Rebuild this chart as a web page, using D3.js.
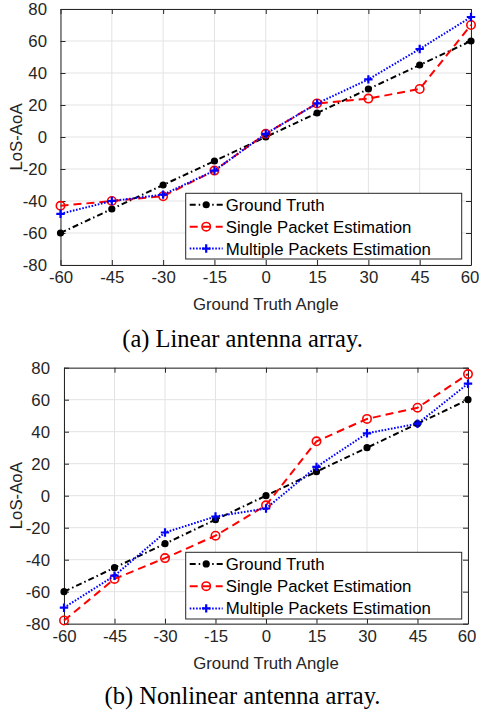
<!DOCTYPE html>
<html>
<head>
<meta charset="utf-8">
<script src="https://cdn.jsdelivr.net/npm/d3@7"></script>
<style>
  html, body { margin: 0; padding: 0; background: #ffffff; }
  svg { display: block; }
</style>
</head>
<body>
<svg id="fig" width="479" height="713"></svg>
<script>
// Ground-truth angles (x axis) and tick labels
const angles = [-60, -45, -30, -15, 0, 15, 30, 45, 60];
const xTicks = [-60, -45, -30, -15, 0, 15, 30, 45, 60];
const yTicks = [-80, -60, -40, -20, 0, 20, 40, 60, 80];

// (a) Linear antenna array
const linearTruth    = [-60, -45, -30, -15, 0, 15, 30, 45, 60];
const linearSingle   = [-43, -40, -37, -21, 2, 21, 24, 30, 70];
const linearMultiple = [-48, -40, -36, -21, 2, 21, 36, 55, 75];

// (b) Nonlinear antenna array
const nonlinTruth    = [-60, -45, -30, -15, 0, 15, 30, 45, 60];
const nonlinSingle   = [-78, -52, -39, -25, -6, 34, 48, 55, 76];
const nonlinMultiple = [-70, -50, -23, -13, -8, 18, 39, 45, 70];

const seriesNames = ["Ground Truth", "Single Packet Estimation", "Multiple Packets Estimation"];
const captions = ["(a) Linear antenna array.", "(b) Nonlinear antenna array."];

const svg = d3.select("#fig");
const axisColor = "#262626";
const gridColor = "#e3e3e3";
const sans = "'Liberation Sans', Arial, sans-serif";
const serif = "'Liberation Serif', 'Times New Roman', serif";
const fontSize = "16.8px";

const styles = [
  { color: "#000000", dash: "6,3,1.5,3", marker: "dot" },
  { color: "#ff0000", dash: "8,5", marker: "circle" },
  { color: "#0000ff", dash: "1.6,1.6", marker: "plus" }
];

const panels = [
  { left: 60.5, right: 471, top: 9, bottom: 265,
    series: [linearTruth, linearSingle, linearMultiple],
    legend: { x: 185.7, y: 193.3, w: 276, h: 65.7 },
    tickGap: 8.5, captionY: 346.5, caption: captions[0] },
  { left: 64, right: 468, top: 367.7, bottom: 623.7,
    series: [nonlinTruth, nonlinSingle, nonlinMultiple],
    legend: { x: 185.7, y: 552.3, w: 276, h: 66.7 },
    tickGap: 9, captionY: 704.3, caption: captions[1] }
];

function drawMarker(g, kind, cx, cy, color) {
  if (kind === "dot") {
    g.append("circle").attr("cx", cx).attr("cy", cy).attr("r", 3.6).attr("fill", color);
  } else if (kind === "circle") {
    g.append("circle").attr("cx", cx).attr("cy", cy).attr("r", 4.2)
      .attr("fill", "none").attr("stroke", color).attr("stroke-width", 1.6);
  } else {
    const s = 4.2;
    g.append("path").attr("d", `M${cx - s},${cy}H${cx + s}M${cx},${cy - s}V${cy + s}`)
      .attr("stroke", color).attr("stroke-width", 2.2).attr("fill", "none");
  }
}

// plain hyphen-minus labels
const fmt = d => String(d);

panels.forEach(p => {
  const x = d3.scaleLinear().domain([-60, 60]).range([p.left, p.right]);
  const y = d3.scaleLinear().domain([-80, 80]).range([p.bottom, p.top]);
  const g = svg.append("g");

  // grid
  g.append("g").selectAll("line").data(xTicks).join("line")
    .attr("x1", d => x(d)).attr("x2", d => x(d))
    .attr("y1", p.top).attr("y2", p.bottom)
    .attr("stroke", gridColor).attr("stroke-width", 1);
  g.append("g").selectAll("line").data(yTicks).join("line")
    .attr("y1", d => y(d)).attr("y2", d => y(d))
    .attr("x1", p.left).attr("x2", p.right)
    .attr("stroke", gridColor).attr("stroke-width", 1);

  // axes with inward ticks on all four sides
  const tickLen = 5;
  const styleAxis = sel => {
    sel.select(".domain").attr("stroke", axisColor).attr("stroke-width", 1);
    sel.selectAll(".tick line").attr("stroke", axisColor).attr("stroke-width", 1);
    sel.selectAll("text").attr("fill", axisColor)
      .attr("font-family", sans).attr("font-size", fontSize);
  };
  g.append("g").attr("transform", `translate(0,${p.bottom})`)
    .call(d3.axisBottom(x).tickValues(xTicks).tickSizeInner(-tickLen).tickSizeOuter(0)
      .tickPadding(tickLen + 13).tickFormat(fmt))
    .call(styleAxis)
    .call(a => a.selectAll("text").attr("dy", "0")
      .attr("dx", d => d === xTicks[xTicks.length - 1] ? -1.5 : 0));
  g.append("g").attr("transform", `translate(0,${p.top})`)
    .call(d3.axisTop(x).tickValues(xTicks).tickSizeInner(-tickLen).tickSizeOuter(0).tickFormat(""))
    .call(styleAxis);
  g.append("g").attr("transform", `translate(${p.left},0)`)
    .call(d3.axisLeft(y).tickValues(yTicks).tickSizeInner(-tickLen).tickSizeOuter(0)
      .tickPadding(tickLen + p.tickGap).tickFormat(fmt))
    .call(styleAxis);
  g.append("g").attr("transform", `translate(${p.right},0)`)
    .call(d3.axisRight(y).tickValues(yTicks).tickSizeInner(-tickLen).tickSizeOuter(0).tickFormat(""))
    .call(styleAxis);

  // axis titles
  g.append("text").attr("x", (p.left + p.right) / 2).attr("y", p.bottom + 45)
    .attr("text-anchor", "middle").attr("font-family", sans).attr("font-size", fontSize)
    .attr("fill", axisColor).text("Ground Truth Angle");
  g.append("text")
    .attr("transform", `translate(21.5,${(p.top + p.bottom) / 2}) rotate(-90)`)
    .attr("text-anchor", "middle").attr("font-family", sans).attr("font-size", fontSize)
    .attr("fill", axisColor).text("LoS-AoA");

  // series
  const line = d3.line().x((d, i) => x(angles[i])).y(d => y(d));
  p.series.forEach((vals, si) => {
    const st = styles[si];
    g.append("path").datum(vals).attr("d", line)
      .attr("fill", "none").attr("stroke", st.color).attr("stroke-width", 2)
      .attr("stroke-dasharray", st.dash);
    vals.forEach((v, i) => drawMarker(g, st.marker, x(angles[i]), y(v), st.color));
  });

  // legend
  const L = p.legend;
  const lg = g.append("g");
  lg.append("rect").attr("x", L.x).attr("y", L.y).attr("width", L.w).attr("height", L.h)
    .attr("fill", "#ffffff").attr("stroke", axisColor).attr("stroke-width", 1);
  const rowH = L.h / 3;
  seriesNames.forEach((name, si) => {
    const st = styles[si];
    const cy = L.y + rowH * (si + 0.5) + 0.5;
    lg.append("line").attr("x1", L.x + 4).attr("x2", L.x + 37).attr("y1", cy).attr("y2", cy)
      .attr("stroke", st.color).attr("stroke-width", 2).attr("stroke-dasharray", st.dash);
    drawMarker(lg, st.marker, L.x + 20.5, cy, st.color);
    lg.append("text").attr("x", L.x + 40).attr("y", cy + 6)
      .attr("font-family", sans).attr("font-size", fontSize).attr("fill", "#000000").text(name);
  });

  // caption
  svg.append("text").attr("x", 242.5).attr("y", p.captionY)
    .attr("text-anchor", "middle").attr("font-family", serif).attr("font-size", "24.5px")
    .attr("fill", "#000000").text(p.caption);
});
</script>
</body>
</html>
